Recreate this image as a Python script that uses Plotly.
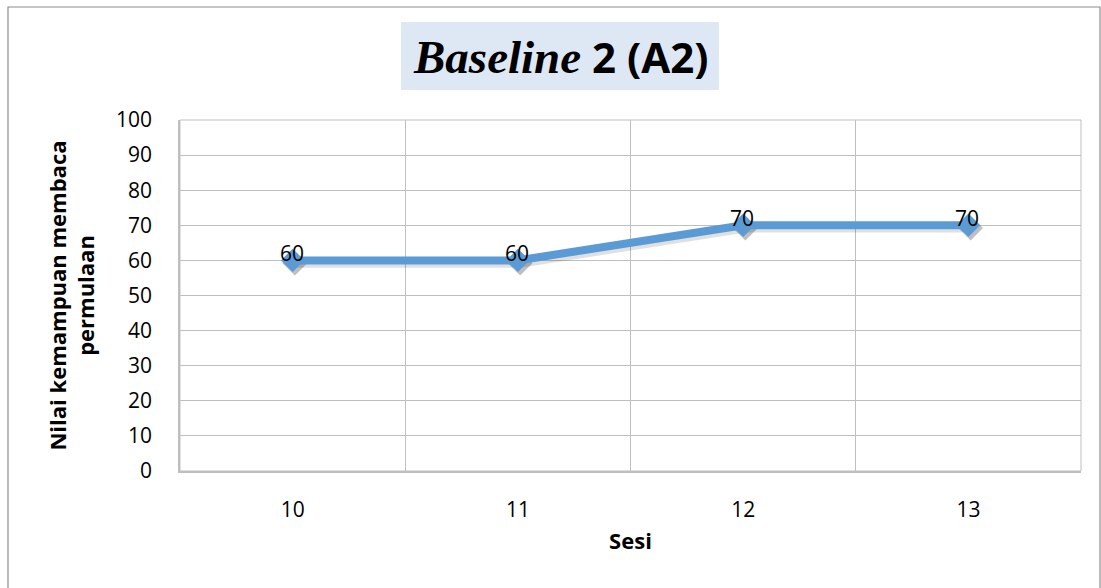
import plotly.graph_objects as go

sesi = ["10", "11", "12", "13"]
nilai = [60, 60, 70, 70]
y_ticks = [0, 10, 20, 30, 40, 50, 60, 70, 80, 90, 100]

W, H = 1101, 588
L, R, T, B = 180, 20, 120, 117
pw, ph = W - L - R, H - T - B

def px(x):
    return (x - L) / pw

def py(y):
    return (H - B - y) / ph

xs = list(range(len(sesi)))
line_color = "#5B9BD5"
grid_color = "#BFBFBF"
font_main = "Open Sans"

fig = go.Figure()

# soft shadow under the line
fig.add_trace(go.Scatter(
    x=[x + 0.01 for x in xs], y=[v - 0.8 for v in nilai],
    mode="lines+markers",
    line=dict(color="rgba(0,0,0,0.12)", width=9),
    marker=dict(symbol="diamond", size=19, color="rgba(0,0,0,0.25)"),
    hoverinfo="skip", showlegend=False,
))

fig.add_trace(go.Scatter(
    x=xs, y=nilai,
    mode="lines+markers",
    line=dict(color=line_color, width=8),
    marker=dict(symbol="diamond", size=18, color=line_color),
    showlegend=False,
))

# value labels
for x, v in zip(xs, nilai):
    fig.add_annotation(
        x=x, y=v, text=str(v), showarrow=False,
        yshift=7, xshift=-1,
        font=dict(family=font_main, size=21, color="black"),
    )

fig.update_xaxes(
    range=[-0.5, len(sesi) - 0.5],
    tickvals=xs, ticktext=sesi,
    showgrid=False,
    minor=dict(tickvals=[i - 0.5 for i in range(len(sesi) + 1)],
               showgrid=True, gridcolor=grid_color, gridwidth=1, ticks=""),
    showline=True, linecolor=grid_color, linewidth=1.5,
    ticks="", ticklabelstandoff=19,
    tickfont=dict(family=font_main, size=21, color="black"),
    title=dict(text="<b>Sesi</b>", standoff=12,
               font=dict(family=font_main, size=22, color="black")),
    zeroline=False,
)

fig.update_yaxes(
    range=[0, 100],
    tickvals=y_ticks,
    showgrid=True, gridcolor=grid_color, gridwidth=1,
    showline=True, linecolor=grid_color, linewidth=1.5,
    ticks="", ticklabelstandoff=22,
    tickfont=dict(family=font_main, size=21, color="black"),
    title=dict(text="<b>Nilai kemampuan membaca<br>permulaan</b>", standoff=15,
               font=dict(family=font_main, size=22, color="black")),
    zeroline=False,
)

# chart frame
fig.add_shape(type="rect", xref="paper", yref="paper",
              x0=px(8), x1=px(1100), y0=py(600), y1=py(7),
              line=dict(color="#8C8C8C", width=1.2), layer="below")
# plot-area right/top border
fig.add_shape(type="rect", xref="paper", yref="paper",
              x0=0, x1=1, y0=0, y1=1,
              line=dict(color=grid_color, width=1), layer="below")

# title box
fig.add_shape(type="rect", xref="paper", yref="paper",
              x0=px(401), x1=px(719), y0=py(90), y1=py(22),
              fillcolor="#DEE8F4", line=dict(width=0), layer="below")
fig.add_annotation(
    xref="paper", yref="paper",
    x=px(560), y=py(57), xanchor="center", yanchor="middle",
    text=("<i><b><span style='font-family:Liberation Serif;font-size:47px'>"
          "Baseline</span></b></i><b> 2 (A2)</b>"),
    showarrow=False,
    font=dict(family=font_main, size=42, color="black"),
)

fig.update_layout(
    width=W, height=H,
    margin=dict(l=L, r=R, t=T, b=B),
    plot_bgcolor="white", paper_bgcolor="white",
)

fig.write_html("out.html")
